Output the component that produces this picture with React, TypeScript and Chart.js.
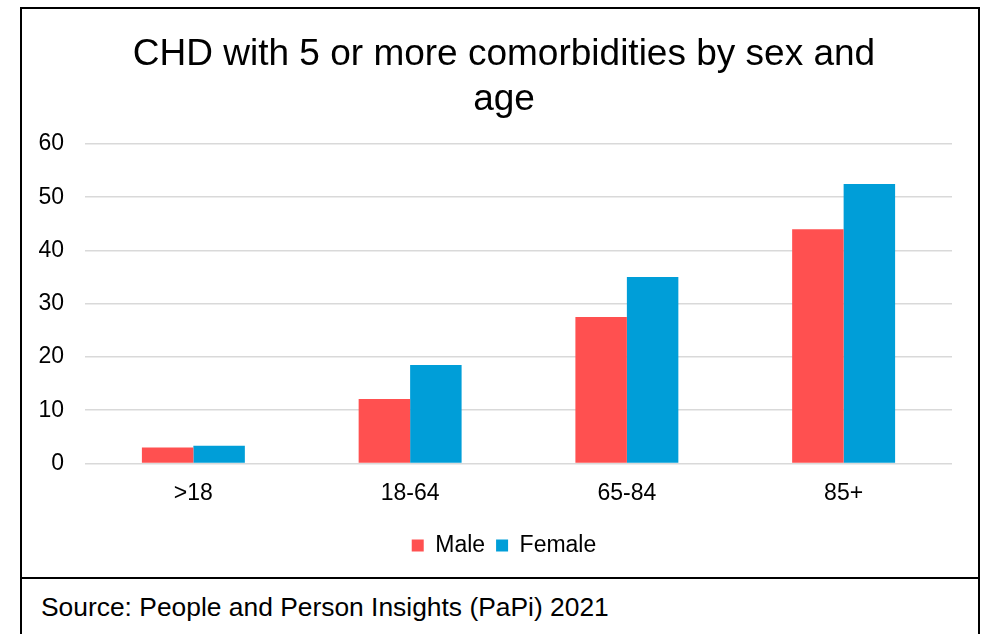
import React, { useEffect, useRef } from "react";
import { Chart, registerables } from "chart.js";

Chart.register(...registerables);

const titleLines = ["CHD with 5 or more comorbidities by sex and", "age"];
const categories = [">18", "18-64", "65-84", "85+"];
const maleValues = [3.0, 12.1, 27.5, 44.0];
const femaleValues = [3.3, 18.5, 35.0, 52.5];
const seriesNames = ["Male", "Female"];
const yTicks = [0, 10, 20, 30, 40, 50, 60];
const sourceText = "Source: People and Person Insights (PaPi) 2021";

const FONT = "'Liberation Sans', Arial, sans-serif";

// lets the y tick labels extend to the left of the (narrow) y-axis box without being clipped
const unclipYLabels = {
  id: "unclipYLabels",
  afterLayout(chart: any) {
    if (chart.scales && chart.scales.y) chart.scales.y.left = 0;
  },
};

export default function App() {
  const canvasRef = useRef<HTMLCanvasElement | null>(null);

  useEffect(() => {
    if (!canvasRef.current) return;
    const chart = new Chart(canvasRef.current, {
      type: "bar",
      data: {
        labels: categories,
        datasets: [
          {
            label: seriesNames[0],
            data: maleValues,
            backgroundColor: "#FF5050",
            barPercentage: 1,
            categoryPercentage: 0.475,
          },
          {
            label: seriesNames[1],
            data: femaleValues,
            backgroundColor: "#009ED8",
            barPercentage: 1,
            categoryPercentage: 0.475,
          },
        ],
      },
      options: {
        animation: false,
        responsive: true,
        maintainAspectRatio: false,
        layout: { padding: { left: 34, right: 26, top: 0, bottom: 10 } },
        plugins: {
          title: {
            display: true,
            text: titleLines,
            color: "#000",
            font: { family: FONT, size: 37, weight: "normal", lineHeight: 1.2162 },
            padding: { top: 23.5, bottom: 21.5 },
          },
          legend: {
            position: "bottom",
            labels: {
              color: "#000",
              font: { family: FONT, size: 23 },
              boxWidth: 12,
              boxHeight: 12,
              padding: 11,
            },
          },
          tooltip: { enabled: false },
        },
        scales: {
          x: {
            grid: { display: false, drawTicks: false },
            border: { display: false },
            ticks: {
              color: "#000",
              font: { family: FONT, size: 23 },
              padding: 16,
            },
          },
          y: {
            min: yTicks[0],
            max: yTicks[yTicks.length - 1],
            afterBuildTicks: (axis: any) => {
              axis.ticks = yTicks.map((v) => ({ value: v }));
            },
            afterFit: (axis: any) => {
              axis.width = 29;
            },
            grid: { color: "#D9D9D9", lineWidth: 1.5, drawTicks: false },
            border: { display: false },
            ticks: {
              color: "#000",
              font: { family: FONT, size: 23 },
              padding: 21,
            },
          },
        },
      },
      plugins: [unclipYLabels],
    });
    return () => chart.destroy();
  }, []);

  return (
    <div
      style={{
        position: "absolute",
        left: 20,
        top: 7,
        width: 960,
        boxSizing: "border-box",
        borderLeft: "2px solid #000",
        borderRight: "2px solid #000",
        borderTop: "2px solid #000",
        background: "#fff",
      }}
    >
      <div style={{ position: "relative", width: 956, height: 568 }}>
        <canvas ref={canvasRef} />
      </div>
      <div
        style={{
          borderTop: "2px solid #000",
          height: 70,
          boxSizing: "border-box",
          paddingTop: 13,
          paddingLeft: 19,
          fontFamily: FONT,
          fontSize: 26.4,
          lineHeight: "30px",
          color: "#000",
        }}
      >
        {sourceText}
      </div>
    </div>
  );
}
